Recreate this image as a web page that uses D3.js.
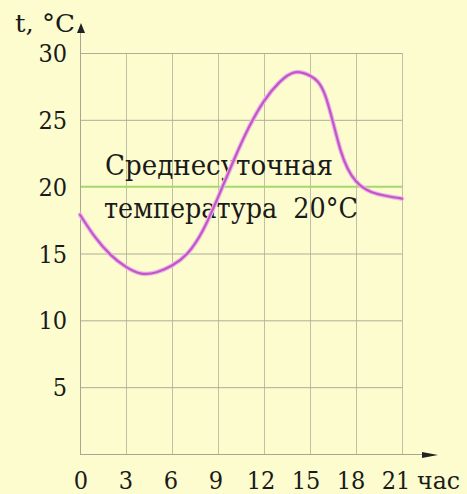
<!DOCTYPE html>
<html><head><meta charset="utf-8">
<script src="https://cdn.jsdelivr.net/npm/d3@7"></script>
<style>
html,body{margin:0;padding:0;background:#fcfcce;}
svg{display:block;}
</style></head>
<body>
<svg id="c" width="467" height="494"></svg>
<script>
const hours = [0,1,2,3,4,5,6,7,8,9,10,11,12,13,14,15,16,17,18,19,20,21];
const temps = [17.9,16.2,14.9,14.0,13.5,13.6,14.1,15.0,16.7,19.2,21.9,24.4,26.4,27.8,28.55,28.3,26.8,22.7,20.4,19.6,19.3,19.1];
const xTicks = [0,3,6,9,12,15,18,21];
const yTicks = [5,10,15,20,25,30];
const meanTemp = 20;
const yTitle = "t, °C";
const xUnit = "час";
const noteLines = ["Среднесуточная","температура  20°C"];

const FONT = "'DejaVu Serif Condensed','DejaVu Serif',serif";

const svg = d3.select("#c");
svg.append("rect").attr("width",467).attr("height",494).attr("fill","#fcfcce");

const x = d3.scaleLinear().domain([0,21]).range([80,402]);
const y = d3.scaleLinear().domain([0,30]).range([454,53]);
const xLab = d3.scaleLinear().domain([0,21]).range([81,396]);

const grid = svg.append("g").attr("stroke","#c0c0a2").attr("stroke-width",1);
grid.selectAll("line.v").data(xTicks.slice(1)).join("line")
  .attr("x1",d=>x(d)+0.5).attr("x2",d=>x(d)+0.5).attr("y1",y(30)).attr("y2",y(0));
grid.selectAll("line.h").data(yTicks.filter(d=>d!==meanTemp)).join("line")
  .attr("x1",x(0)).attr("x2",x(21)).attr("y1",d=>y(d)+0.5).attr("y2",d=>y(d)+0.5)
  .attr("stroke","#aeae94");

// mean line
svg.append("line").attr("x1",x(0)).attr("x2",x(21)).attr("y1",y(meanTemp)).attr("y2",y(meanTemp))
  .attr("stroke","#a6d870").attr("stroke-width",2);

// axes
svg.append("line").attr("x1",x(0)+0.5).attr("x2",x(0)+0.5).attr("y1",y(0)).attr("y2",30)
  .attr("stroke","#a8a890").attr("stroke-width",1);
svg.append("line").attr("x1",x(0)).attr("x2",430).attr("y1",y(0)+0.5).attr("y2",y(0)+0.5)
  .attr("stroke","#a8a890").attr("stroke-width",1);
svg.append("path").attr("d","M81,23 L85,33 L77,33 Z").attr("fill","#222");
svg.append("path").attr("d","M438,455 L422,452 L422,458 Z").attr("fill","#222");

// note text
svg.append("text").attr("x",105).attr("y",175).attr("font-size",28).attr("font-family",FONT).attr("fill","#1a1a1a")
  .attr("textLength",228).attr("lengthAdjust","spacingAndGlyphs").text(noteLines[0]);
svg.append("text").attr("x",104).attr("y",218).attr("font-size",28).attr("font-family",FONT).attr("fill","#1a1a1a")
  .style("white-space","pre")
  .attr("textLength",254).attr("lengthAdjust","spacingAndGlyphs").text(noteLines[1]);

// curve
const line = d3.line().x((d,i)=>x(hours[i])).y(d=>y(d)).curve(d3.curveNatural);
svg.append("path").datum(temps).attr("d",line).attr("fill","none")
  .attr("stroke","#e9b6e9").attr("stroke-width",4.5).attr("stroke-linecap","round");
svg.append("path").datum(temps).attr("d",line).attr("fill","none")
  .attr("stroke","#c455c4").attr("stroke-width",2.2).attr("stroke-linecap","round");

// tick labels
svg.selectAll("text.yt").data(yTicks).join("text").attr("class","yt")
  .attr("font-family",FONT).attr("fill","#1a1a1a")
  .attr("x",67).attr("y",d=>y(d)+9).attr("text-anchor","end").attr("font-size",25).text(d=>d);
svg.selectAll("text.xt").data(xTicks).join("text").attr("class","xt")
  .attr("font-family",FONT).attr("fill","#1a1a1a")
  .attr("x",d=>xLab(d)).attr("y",489).attr("text-anchor","middle").attr("font-size",25).text(d=>d);
svg.append("text").attr("x",417).attr("y",489).attr("font-size",24).attr("font-family",FONT).attr("fill","#1a1a1a")
  .attr("textLength",43).attr("lengthAdjust","spacingAndGlyphs").text(xUnit);
svg.append("text").attr("x",15).attr("y",32).attr("font-size",25).attr("font-family",FONT).attr("fill","#1a1a1a")
  .style("white-space","pre")
  .attr("textLength",60).attr("lengthAdjust","spacingAndGlyphs").text(yTitle);
</script>
</body></html>
